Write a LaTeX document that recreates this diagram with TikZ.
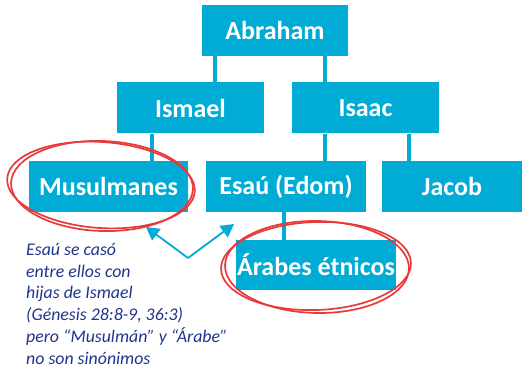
\documentclass[tikz,border=0pt]{standalone}
\usepackage{fontspec}
\setmainfont{Carlito}
\usetikzlibrary{arrows.meta, positioning}
\definecolor{boxcyan}{RGB}{0,172,214}
\definecolor{notenavy}{RGB}{32,52,140}
\definecolor{ringred}{RGB}{232,58,58}
\tikzstyle{person} = [rectangle, fill=boxcyan, text=white,
minimum height=51pt, inner sep=0pt,
font=\fontsize{26}{30}\selectfont\bfseries]
\tikzstyle{link} = [draw=boxcyan, line width=4pt]
\tikzstyle{arrow} = [-{Triangle[length=13pt, width=14pt]}, draw=boxcyan, fill=boxcyan, line width=1.8pt]
\tikzstyle{ring} = [draw=ringred, line width=1.7pt]

\begin{document}
\begin{tikzpicture}[x=1pt, y=-1pt]
    \useasboundingbox (0,0) rectangle (522,371);

    \node (abraham) [person, minimum width=146pt] at (275,30.5)  {Abraham};
    \node (ismael)  [person, minimum width=147pt] at (190.5,108) {Ismael};
    \node (isaac)   [person, minimum width=147pt] at (365.5,108) {Isaac};
    \node (musul)   [person, minimum width=159pt] at (108.5,186.5) {Musulmanes};
    \node (esau)    [person, minimum width=160pt] at (286,186.5) {Esaú (Edom)};
    \node (jacob)   [person, minimum width=140pt] at (452,186.5) {Jacob};
    \node (arabes)  [person, minimum width=160pt, minimum height=50pt] at (316,265) {Árabes étnicos};

    \draw[link] ([xshift=13pt]abraham.south west) -- ([xshift=13pt]abraham.south west |- ismael.north);
    \draw[link] ([xshift=-23pt]abraham.south east) -- ([xshift=-23pt]abraham.south east |- isaac.north);
    \draw[link] ([xshift=35pt]ismael.south west) -- ([xshift=35pt]ismael.south west |- musul.north);
    \draw[link] ([xshift=33pt]isaac.south west) -- ([xshift=33pt]isaac.south west |- esau.north);
    \draw[link] ([xshift=-30pt]isaac.south east) -- ([xshift=-30pt]isaac.south east |- jacob.north);
    \draw[link] ([xshift=-2pt]esau.south) -- ([xshift=-2pt]esau.south |- arabes.north);

    % hand drawn circles
    \draw[ring, rotate around={-4:(101,185)}] (101,185) ellipse [x radius=94, y radius=43];
    \draw[ring, rotate around={-2:(102,186)}] (102,186) ellipse [x radius=91, y radius=45];
    \draw[ring, rotate around={2:(316,266)}] (316,266) ellipse [x radius=95, y radius=44];
    \draw[ring, rotate around={-1:(317,267)}] (317,267) ellipse [x radius=92, y radius=46];

    \coordinate (fork) at (188,258);
    \coordinate (tipmusul) at (146,227);
    \coordinate (tipesau) at (234,224);
    \draw[arrow] (fork) -- (tipmusul);
    \draw[arrow] (fork) -- (tipesau);

    \node (note) [anchor=north west, align=left, text=notenavy, inner sep=0pt,
        font=\fontsize{17.8}{21.8}\selectfont\itshape] at (26,243)
        {Esaú se casó\\entre ellos con\\hijas de Ismael\\(Génesis 28:8-9, 36:3)\\pero “Musulmán” y “Árabe”\\no son sinónimos};
\end{tikzpicture}
\end{document}
